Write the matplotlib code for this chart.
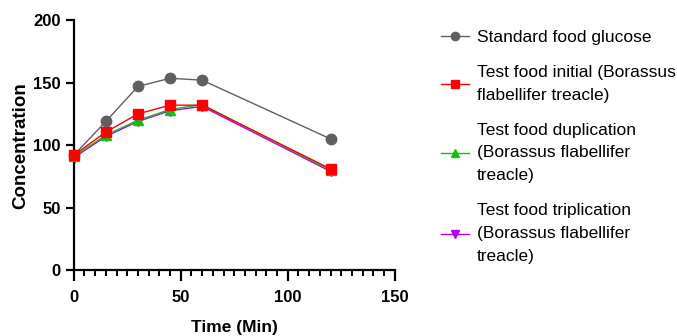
import matplotlib
matplotlib.use("Agg")
import matplotlib.pyplot as plt
from matplotlib.ticker import MultipleLocator

plt.rcParams['font.family'] = ['Liberation Sans', 'DejaVu Sans']

time = [0, 15, 30, 45, 60, 120]

standard = [92, 119, 147, 153.5, 152, 105]
initial = [92, 110.5, 125, 132, 132, 81]
duplication = [91, 108, 120, 128.5, 132.5, 80]
triplication = [90, 107, 119, 127.5, 131, 79]

labels = [
    "Standard food glucose",
    "Test food initial (Borassus\nflabellifer treacle)",
    "Test food duplication\n(Borassus flabellifer\ntreacle)",
    "Test food triplication\n(Borassus flabellifer\ntreacle)",
]

fig = plt.figure(figsize=(6.77, 3.36), dpi=100)
ax = fig.add_axes([0.109, 0.196, 0.474, 0.744])

ax.plot(time, standard, color="#606060", marker="o", markersize=7.5, lw=1, label=labels[0])
ax.plot(time, triplication, color="#b000f0", marker="v", markersize=7, lw=1, label=labels[3], zorder=2)
ax.plot(time, duplication, color="#10c010", marker="^", markersize=7, lw=1, label=labels[2], zorder=3)
ax.plot(time, initial, color="#ff0000", marker="s", markersize=7.5, lw=1, label=labels[1], zorder=4)

ax.set_xlim(0, 150)
ax.set_ylim(0, 200)
ax.xaxis.set_major_locator(MultipleLocator(50))
ax.xaxis.set_minor_locator(MultipleLocator(5))
ax.yaxis.set_major_locator(MultipleLocator(50))

for s in ["top", "right"]:
    ax.spines[s].set_visible(False)
for s in ["left", "bottom"]:
    ax.spines[s].set_linewidth(1.6)

ax.tick_params(axis="both", which="major", width=1.6, length=6, labelsize=12)
ax.tick_params(axis="x", which="major", length=8, pad=6)
ax.tick_params(axis="x", which="minor", width=1.4, length=4.5)
for t in ax.get_xticklabels() + ax.get_yticklabels():
    t.set_fontweight("bold")

ax.set_xlabel("Time (Min)", fontsize=12.5, fontweight="bold", labelpad=11)
ax.set_ylabel("Concentration", fontsize=13.5, fontweight="bold", labelpad=3)
for line in ax.get_lines():
    line.set_clip_on(False)

handles, labs = ax.get_legend_handles_labels()
order = [0, 3, 2, 1]
leg = fig.legend([handles[i] for i in order], [labs[i] for i in order],
                 loc="upper left", bbox_to_anchor=(0.652, 0.912), frameon=False,
                 fontsize=12.5, handlelength=1.6, handletextpad=0.45, labelspacing=1.15,
                 markerscale=0.8, borderpad=0, borderaxespad=0)
for t in leg.get_texts():
    t.set_linespacing(1.66)

fig.savefig("out.png", dpi=100)
